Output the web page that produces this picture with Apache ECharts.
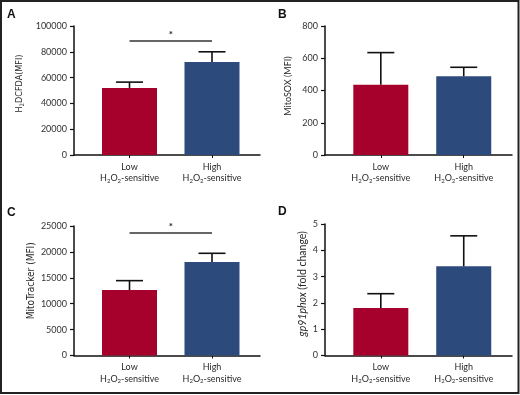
<!DOCTYPE html>
<html><head><meta charset="utf-8">
<script src="https://cdn.jsdelivr.net/npm/echarts@6/dist/echarts.min.js"></script>
<style>html,body{margin:0;padding:0;background:#fff}#c{width:520px;height:395px}</style>
</head><body><div id="c"></div>
<script>
// ---- data ----
const categories = ['Low', 'High'];
const categorySub = 'H{s|2}O{s|2}-sensitive';
const panelLabels = ['A', 'B', 'C', 'D'];
const h2dcfdaMean = [52000, 72000];
const h2dcfdaSD = [4500, 8000];
const mitosoxMean = [435, 488];
const mitosoxSD = [200, 56];
const mitotrackerMean = [12650, 18050];
const mitotrackerSD = [1800, 1680];
const gp91Mean = [1.81, 3.39];
const gp91SD = [0.54, 1.16];
const sigLevel = [88400, null, 23650, null];
const yMax = [100000, 800, 25000, 5];
const yInterval = [20000, 200, 5000, 1];
const yNames = ['H{s|2}DCFDA(MFI)', 'MitoSOX (MFI)', 'MitoTracker (MFI)', '{i|gp91phox} (fold change)'];

const means = [h2dcfdaMean, mitosoxMean, mitotrackerMean, gp91Mean];
const sds = [h2dcfdaSD, mitosoxSD, mitotrackerSD, gp91SD];

// ---- layout / style ----
const colors = ['#a6002c', '#2d4a7c'];
const grids = [
  {left: 74, top: 26, width: 186, height: 129},
  {left: 325, top: 26, width: 187, height: 129},
  {left: 74, top: 226, width: 186, height: 129.5},
  {left: 325, top: 224, width: 187, height: 131.5}
];
const nameGaps = [49, 32, 38, 17];
const namePads = [14, 9, 20, 12];
const nameSizes = [9, 9, 10, 10.5];
const NARROW = '"Liberation Sans Narrow","DejaVu Sans Condensed",Roboto,sans-serif';
const FONT = 'Lato,"Open Sans",sans-serif';
const nameFonts = [NARROW, FONT, NARROW, FONT];
const labelPos = [[7, 15], [278, 15], [7, 213], [278, 212]];
const xMin = 0.327, xMax = 2.582;
const catPos = categories.map((c, i) => i + 1);

const xAxes = [], yAxes = [], series = [];
grids.forEach((g, p) => {
  xAxes.push({
    gridIndex: p, type: 'value', min: xMin, max: xMax,
    axisLine: {show: true, onZero: false, lineStyle: {color: '#111', width: 1.5}},
    axisTick: {show: true, customValues: catPos, length: 3, lineStyle: {color: '#111', width: 1}},
    axisLabel: {
      customValues: catPos, margin: 6, fontSize: 9, lineHeight: 11.5, color: '#2a2a2a', fontFamily: FONT,
      formatter: v => categories[Math.round(v) - 1] + '\n' + categorySub,
      rich: {s: {fontSize: 6, verticalAlign: 'bottom', lineHeight: 11.5, color: '#2a2a2a', fontFamily: FONT}}
    },
    splitLine: {show: false}
  });
  yAxes.push({
    gridIndex: p, type: 'value', min: 0, max: yMax[p], interval: yInterval[p],
    axisLine: {show: true, onZero: false, lineStyle: {color: '#111', width: 1.5}},
    axisTick: {show: true, length: 4, lineStyle: {color: '#111', width: 1.2}},
    axisLabel: {fontSize: 9, color: '#333', margin: 7, fontFamily: FONT, formatter: v => String(v)},
    splitLine: {show: false},
    name: yNames[p], nameLocation: 'middle', nameGap: nameGaps[p],
    nameTextStyle: {
      fontSize: nameSizes[p], color: '#2a2a2a', fontFamily: nameFonts[p], padding: [0, 0, 0, namePads[p]],
      rich: {
        s: {fontSize: 6, verticalAlign: 'bottom', lineHeight: 11, color: '#2a2a2a', fontFamily: nameFonts[p]},
        i: {fontSize: nameSizes[p], fontStyle: 'italic', color: '#2a2a2a', fontFamily: nameFonts[p]}
      }
    }
  });
  series.push({
    type: 'bar', xAxisIndex: p, yAxisIndex: p, barWidth: 55,
    data: categories.map((c, i) => ({value: [catPos[i], means[p][i]], itemStyle: {color: colors[i]}})),
    z: 2
  });
  series.push({
    type: 'custom', xAxisIndex: p, yAxisIndex: p, z: 3,
    encode: {x: 0, y: [1, 2]},
    data: categories.map((c, i) => [catPos[i], means[p][i], means[p][i] + sds[p][i]]),
    renderItem: (params, api) => {
      const x = api.value(0);
      const lo = api.coord([x, api.value(1)]);
      const hi = api.coord([x, api.value(2)]);
      const half = 13.5;
      const st = {stroke: '#111', lineWidth: 1.6};
      return {type: 'group', children: [
        {type: 'line', shape: {x1: lo[0], y1: lo[1], x2: hi[0], y2: hi[1]}, style: st},
        {type: 'line', shape: {x1: hi[0] - half, y1: hi[1], x2: hi[0] + half, y2: hi[1]}, style: st}
      ]};
    }
  });
  if (sigLevel[p] != null) {
    series.push({
      type: 'custom', xAxisIndex: p, yAxisIndex: p, z: 3,
      encode: {x: [0, 1], y: 2},
      data: [[catPos[0], catPos[1], sigLevel[p]]],
      renderItem: (params, api) => {
        const a = api.coord([api.value(0), api.value(2)]);
        const b = api.coord([api.value(1), api.value(2)]);
        return {type: 'group', children: [
          {type: 'line', shape: {x1: a[0], y1: a[1], x2: b[0], y2: b[1]}, style: {stroke: '#333', lineWidth: 1.6}},
          {type: 'text', x: (a[0] + b[0]) / 2, y: a[1] - 1, style: {text: '*', fill: '#222', font: 'bold 10px ' + FONT, align: 'center', verticalAlign: 'bottom'}}
        ]};
      }
    });
  }
});

const graphics = [
  {type: 'rect', shape: {x: 1, y: 1, width: 517.5, height: 392}, style: {fill: 'none', stroke: '#222', lineWidth: 2}, z: 10}
];
panelLabels.forEach((t, i) => {
  graphics.push({type: 'text', x: labelPos[i][0], y: labelPos[i][1],
    style: {text: t, fill: '#111', font: 'bold 12px "Liberation Sans",Arial,sans-serif', verticalAlign: 'middle', align: 'left'}});
});

const chart = echarts.init(document.getElementById('c'), null, {renderer: 'canvas'});
chart.setOption({
  backgroundColor: '#fff',
  animation: false,
  grid: grids.map(g => Object.assign({containLabel: false}, g)),
  xAxis: xAxes, yAxis: yAxes, series: series,
  graphic: graphics
});
</script></body></html>
